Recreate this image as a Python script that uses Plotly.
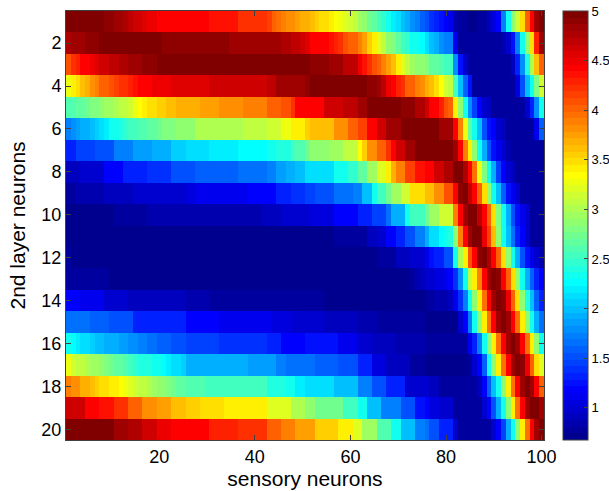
import plotly.graph_objects as go

# ---------------- data ----------------
sensory_neurons = list(range(1, 101))
layer2_neurons = list(range(1, 21))

row01 = [5.0,5.0,5.0,5.0,5.0,5.0,5.0,4.95,4.9,4.9,
         4.85,4.8,4.75,4.7,4.65,4.6,4.55,4.5,4.5,4.45,
         4.42,4.42,4.42,4.42,4.42,4.4,4.4,4.4,4.4,4.4,
         4.35,4.35,4.35,4.35,4.35,4.35,4.25,4.25,4.25,4.25,
         4.25,4.25,4.15,4.05,3.95,3.9,3.85,3.8,3.75,3.7,
         3.65,3.6,3.55,3.5,3.45,3.4,3.35,3.3,3.2,3.15,
         3.05,2.95,2.85,2.75,2.65,2.55,2.45,2.3,2.2,2.1,
         2.0,1.9,1.8,1.7,1.6,1.5,1.4,1.3,1.25,1.2,
         1.1,0.85,0.8,0.75,0.72,0.72,0.75,0.8,0.9,1.05,
         1.2,1.75,2.3,2.85,3.15,3.45,4.0,4.45,4.85,5.0]
row02 = [4.75,4.8,4.85,4.85,4.9,4.9,4.9,4.97,4.97,4.97,
         4.97,4.97,4.97,4.97,4.97,4.97,4.97,4.97,4.97,4.97,
         4.9,4.9,4.9,4.9,4.9,4.9,4.9,4.9,4.9,4.9,
         4.9,4.9,4.9,4.9,4.85,4.85,4.85,4.85,4.85,4.85,
         4.85,4.85,4.8,4.8,4.8,4.75,4.75,4.7,4.7,4.6,
         4.55,4.45,4.45,4.45,4.45,4.35,4.3,4.2,4.1,4.05,
         4.0,3.9,3.75,3.55,3.4,3.2,3.05,2.9,2.8,2.7,
         2.55,2.45,2.35,2.3,2.25,2.1,2.0,1.95,1.8,1.75,
         1.7,1.1,0.8,0.78,0.75,0.75,0.75,0.75,0.75,0.75,
         0.75,0.85,1.0,1.25,1.75,2.35,2.9,3.5,4.3,4.85]
row03 = [4.1,4.2,4.3,4.4,4.45,4.5,4.55,4.6,4.65,4.7,
         4.72,4.75,4.78,4.8,4.82,4.85,4.88,4.9,4.92,4.95,
         5.0,5.0,5.0,5.0,5.0,5.0,5.0,5.0,5.0,5.0,
         5.0,5.0,5.0,5.0,5.0,5.0,5.0,5.0,5.0,5.0,
         5.0,5.0,5.0,5.0,5.0,5.0,5.0,5.0,5.0,5.0,
         5.0,4.9,4.9,4.9,4.9,4.8,4.8,4.8,4.7,4.7,
         4.7,4.5,4.35,4.25,4.1,4.0,3.9,3.75,3.6,3.4,
         3.2,3.1,2.95,2.9,2.85,2.8,2.7,2.65,2.6,2.55,
         2.5,1.8,1.25,1.0,0.75,0.75,0.75,0.75,0.75,0.75,
         0.75,0.75,0.75,0.9,1.3,1.8,2.4,3.0,3.6,4.0]
row04 = [3.3,3.4,3.5,3.6,3.7,3.8,3.9,4.0,4.05,4.1,
         4.15,4.2,4.25,4.3,4.35,4.4,4.42,4.45,4.47,4.5,
         4.5,4.52,4.55,4.55,4.55,4.55,4.55,4.55,4.55,4.55,
         4.62,4.62,4.62,4.62,4.62,4.62,4.62,4.62,4.62,4.62,
         4.62,4.62,4.7,4.7,4.8,4.8,4.8,4.8,4.8,4.8,
         4.9,5.0,5.0,5.0,5.0,5.0,5.0,5.0,5.0,5.0,
         5.0,5.0,5.0,4.9,4.9,4.8,4.7,4.5,4.45,4.3,
         4.25,4.05,4.0,3.9,3.85,3.7,3.6,3.45,3.35,3.15,
         3.05,2.5,2.0,1.6,1.25,0.75,0.75,0.75,0.75,0.75,
         0.75,0.75,0.75,0.75,1.05,1.5,2.0,2.35,2.8,3.15]
row05 = [2.6,2.62,2.65,2.68,2.72,2.78,2.82,2.88,2.92,2.96,
         3.0,3.05,3.1,3.15,3.25,3.35,3.4,3.45,3.5,3.55,
         3.58,3.6,3.62,3.65,3.65,3.7,3.7,3.7,3.75,3.75,
         3.75,3.75,3.85,3.85,3.85,3.85,3.85,3.9,3.9,3.9,
         3.9,3.9,4.0,4.0,4.0,4.1,4.1,4.25,4.4,4.4,
         4.45,4.45,4.45,4.45,4.6,4.6,4.6,4.6,4.7,4.7,
         4.7,4.85,4.85,5.0,5.0,5.0,5.0,5.0,5.0,5.0,
         4.9,4.9,4.9,4.75,4.75,4.65,4.45,4.45,4.3,4.1,
         4.0,3.4,2.85,2.3,1.8,1.45,1.2,0.95,0.9,0.75,
         0.75,0.75,0.75,0.75,0.75,0.75,1.0,1.3,1.8,2.3]
row06 = [1.75,1.8,1.85,1.9,1.95,2.0,2.05,2.15,2.2,2.3,
         2.35,2.4,2.45,2.5,2.55,2.6,2.62,2.65,2.7,2.75,
         2.78,2.8,2.82,2.85,2.85,2.9,2.9,3.0,3.0,3.0,
         3.0,3.0,3.0,3.0,3.0,3.0,3.0,3.05,3.05,3.05,
         3.05,3.05,3.15,3.15,3.15,3.25,3.25,3.4,3.4,3.4,
         3.55,3.6,3.6,3.6,3.6,3.6,3.8,3.8,3.8,4.0,
         4.0,4.15,4.15,4.45,4.45,4.65,4.65,4.8,4.8,4.8,
         5.0,5.0,5.0,5.0,5.0,4.95,4.95,4.95,4.85,4.85,
         4.85,4.45,3.9,3.25,2.7,2.3,2.0,1.5,1.25,1.15,
         0.95,0.9,0.75,0.75,0.75,0.75,0.75,0.75,1.1,1.6]
row07 = [1.35,1.35,1.45,1.45,1.45,1.45,1.55,1.55,1.55,1.55,
         1.75,1.75,1.75,1.75,1.85,1.85,1.85,1.85,1.95,1.95,
         1.95,1.95,2.05,2.05,2.05,2.1,2.1,2.1,2.1,2.1,
         2.2,2.2,2.2,2.2,2.2,2.2,2.25,2.25,2.25,2.25,
         2.25,2.25,2.3,2.3,2.4,2.4,2.4,2.5,2.6,2.6,
         2.75,2.85,2.85,2.85,2.85,2.95,2.95,2.95,3.1,3.1,
         3.1,3.35,3.55,3.8,3.8,4.0,4.0,4.25,4.45,4.65,
         4.65,4.8,4.8,4.95,4.95,4.95,4.95,4.95,4.95,4.95,
         4.95,4.8,4.4,3.9,3.4,2.85,2.35,1.95,1.5,1.25,
         1.1,0.95,0.85,0.75,0.75,0.75,0.75,0.75,0.75,0.8]
row08 = [0.9,0.9,0.9,1.0,1.0,1.0,1.0,1.0,1.2,1.2,
         1.2,1.2,1.3,1.3,1.3,1.3,1.3,1.4,1.4,1.4,
         1.4,1.4,1.5,1.5,1.5,1.5,1.5,1.6,1.6,1.6,
         1.6,1.6,1.6,1.6,1.6,1.6,1.65,1.65,1.65,1.65,
         1.65,1.65,1.75,1.75,1.85,1.85,1.9,1.9,2.0,2.0,
         2.1,2.1,2.15,2.15,2.15,2.15,2.3,2.3,2.3,2.45,
         2.45,2.65,2.65,2.95,2.95,3.2,3.2,3.4,3.65,3.9,
         3.9,4.15,4.15,4.35,4.35,4.45,4.45,4.65,4.65,4.75,
         4.75,4.95,4.95,4.75,4.45,3.95,3.3,2.8,2.3,1.95,
         1.45,1.2,1.0,0.9,0.78,0.78,0.78,0.78,0.78,0.78]
row09 = [0.78,0.78,0.85,0.85,0.85,0.85,0.85,0.85,0.9,0.9,
         0.9,0.9,0.9,0.9,0.95,0.95,0.95,0.95,0.95,1.0,
         1.0,1.0,1.0,1.0,1.0,1.05,1.05,1.12,1.12,1.12,
         1.12,1.12,1.12,1.12,1.12,1.12,1.12,1.12,1.2,1.2,
         1.2,1.2,1.2,1.2,1.3,1.3,1.3,1.4,1.4,1.4,
         1.45,1.45,1.55,1.55,1.55,1.55,1.65,1.65,1.65,1.65,
         1.75,1.75,2.0,2.0,2.3,2.55,2.55,2.75,2.95,2.95,
         3.15,3.15,3.45,3.45,3.45,3.6,3.6,3.8,3.8,4.1,
         4.1,4.45,4.9,5.0,4.7,4.45,4.0,3.45,2.85,2.35,
         2.0,1.6,1.25,1.1,0.95,0.8,0.8,0.8,0.8,0.8]
row10 = [0.72,0.72,0.72,0.72,0.72,0.72,0.72,0.72,0.72,0.72,
         0.78,0.78,0.78,0.78,0.78,0.78,0.78,0.85,0.85,0.85,
         0.85,0.85,0.85,0.85,0.85,0.82,0.82,0.82,0.82,0.82,
         0.82,0.82,0.82,0.82,0.82,0.82,0.82,0.82,0.82,0.82,
         0.82,0.88,0.88,0.88,0.88,0.95,0.95,0.95,0.95,0.95,
         1.0,1.08,1.08,1.08,1.08,1.08,1.2,1.2,1.2,1.2,
         1.2,1.3,1.3,1.3,1.45,1.45,1.45,1.65,1.95,1.95,
         1.95,2.3,2.5,2.5,2.5,2.75,2.95,2.95,3.15,3.15,
         3.15,3.9,4.45,4.85,5.0,4.95,4.7,4.45,4.0,3.5,
         2.8,2.3,1.9,1.5,1.25,1.1,0.95,0.8,0.8,0.8]
row11 = [0.7,0.7,0.7,0.7,0.7,0.7,0.7,0.7,0.7,0.7,
         0.7,0.7,0.7,0.7,0.7,0.7,0.7,0.7,0.7,0.7,
         0.7,0.7,0.7,0.7,0.7,0.7,0.7,0.7,0.7,0.7,
         0.7,0.7,0.7,0.7,0.7,0.7,0.7,0.7,0.7,0.7,
         0.7,0.7,0.72,0.72,0.72,0.72,0.72,0.72,0.72,0.72,
         0.72,0.72,0.72,0.72,0.72,0.72,0.78,0.78,0.78,0.78,
         0.78,0.78,0.78,0.88,0.88,1.0,1.0,1.2,1.2,1.3,
         1.3,1.5,1.5,1.75,1.75,1.95,2.1,2.15,2.25,2.3,
         2.4,2.85,3.9,4.4,4.8,5.0,5.0,4.5,4.15,3.6,
         2.9,2.35,2.0,1.65,1.3,1.15,1.0,0.8,0.8,0.8]
row12 = [0.78,0.7,0.7,0.7,0.7,0.7,0.7,0.7,0.7,0.7,
         0.7,0.7,0.7,0.7,0.7,0.7,0.7,0.7,0.7,0.7,
         0.7,0.7,0.7,0.7,0.7,0.7,0.7,0.7,0.7,0.7,
         0.7,0.7,0.7,0.7,0.7,0.7,0.7,0.7,0.7,0.7,
         0.7,0.7,0.7,0.7,0.7,0.7,0.7,0.7,0.7,0.7,
         0.7,0.7,0.7,0.7,0.7,0.7,0.7,0.7,0.7,0.7,
         0.7,0.7,0.7,0.7,0.7,0.78,0.78,0.78,0.78,0.88,
         0.88,0.88,1.0,1.0,1.0,1.1,1.25,1.35,1.35,1.5,
         1.5,2.3,3.0,3.4,4.1,4.45,4.9,5.0,4.75,4.45,
         4.0,3.5,2.9,2.35,1.9,1.5,1.25,1.1,0.95,0.85]
row13 = [0.8,0.8,0.8,0.8,0.8,0.8,0.8,0.8,0.8,0.72,
         0.72,0.72,0.72,0.72,0.72,0.72,0.72,0.72,0.72,0.72,
         0.72,0.72,0.72,0.72,0.72,0.72,0.72,0.72,0.72,0.72,
         0.7,0.7,0.7,0.7,0.7,0.7,0.7,0.7,0.7,0.7,
         0.7,0.7,0.7,0.7,0.7,0.7,0.7,0.7,0.7,0.7,
         0.7,0.7,0.7,0.7,0.7,0.7,0.7,0.7,0.7,0.7,
         0.7,0.7,0.7,0.7,0.7,0.7,0.7,0.7,0.7,0.7,
         0.7,0.7,0.8,0.85,0.9,0.95,1.0,1.02,1.05,1.1,
         1.15,1.4,1.8,2.3,3.1,3.4,3.9,4.4,4.85,5.0,
         4.9,4.45,4.0,3.45,2.9,2.35,1.95,1.6,1.3,1.15]
row14 = [1.2,1.2,1.2,1.1,1.1,1.1,1.1,1.1,1.0,1.0,
         1.0,1.0,1.0,0.93,0.93,0.93,0.93,0.93,0.93,0.88,
         0.88,0.88,0.88,0.88,0.88,0.85,0.85,0.85,0.85,0.85,
         0.8,0.8,0.8,0.8,0.8,0.8,0.8,0.8,0.8,0.8,
         0.8,0.8,0.8,0.78,0.78,0.78,0.78,0.78,0.78,0.78,
         0.78,0.78,0.78,0.78,0.72,0.72,0.72,0.72,0.72,0.72,
         0.72,0.72,0.72,0.72,0.72,0.72,0.72,0.72,0.72,0.72,
         0.72,0.72,0.72,0.72,0.72,0.78,0.8,0.83,0.85,0.87,
         0.9,1.1,1.4,1.75,2.3,2.85,3.4,3.95,4.45,4.85,
         5.0,4.9,4.5,4.0,3.45,2.9,2.4,2.0,1.6,1.3]
row15 = [1.65,1.65,1.65,1.65,1.65,1.6,1.6,1.6,1.6,1.5,
         1.5,1.5,1.5,1.5,1.35,1.35,1.35,1.35,1.35,1.3,
         1.3,1.3,1.3,1.3,1.3,1.15,1.15,1.15,1.15,1.15,
         1.15,1.15,1.1,1.1,1.1,1.1,1.1,1.1,1.1,1.1,
         1.1,1.1,1.1,1.05,1.05,1.05,1.05,1.0,1.0,1.0,
         1.0,1.0,1.0,1.0,0.92,0.92,0.92,0.92,0.92,0.92,
         0.92,0.85,0.85,0.85,0.85,0.78,0.78,0.78,0.78,0.78,
         0.78,0.78,0.78,0.78,0.78,0.74,0.74,0.74,0.74,0.74,
         0.74,0.74,0.95,1.2,1.7,2.3,2.85,3.4,3.95,4.45,
         4.85,5.0,4.85,4.45,3.95,3.4,2.85,2.35,1.95,1.65]
row16 = [2.3,2.25,2.2,2.15,2.1,2.05,2.0,1.97,1.95,1.92,
         1.9,1.87,1.85,1.82,1.8,1.75,1.7,1.68,1.65,1.62,
         1.6,1.57,1.55,1.52,1.5,1.45,1.45,1.45,1.45,1.45,
         1.45,1.45,1.4,1.4,1.4,1.4,1.4,1.4,1.4,1.4,
         1.4,1.4,1.3,1.3,1.3,1.2,1.2,1.2,1.2,1.2,
         1.22,1.22,1.22,1.22,1.22,1.22,1.22,1.12,1.12,1.12,
         1.12,1.0,1.0,1.0,0.92,0.92,0.92,0.92,0.92,0.82,
         0.82,0.82,0.82,0.82,0.82,0.75,0.75,0.75,0.75,0.75,
         0.75,0.75,0.75,0.75,1.1,1.3,1.75,2.3,2.85,3.4,
         3.95,4.45,4.8,5.0,4.85,4.45,3.95,3.4,2.85,2.35]
row17 = [3.25,3.15,3.1,3.05,3.0,2.95,2.92,2.88,2.8,2.75,
         2.7,2.65,2.6,2.5,2.45,2.42,2.4,2.38,2.35,2.3,
         2.25,2.2,2.15,2.1,2.05,1.95,1.95,1.95,1.95,1.95,
         1.95,1.9,1.9,1.9,1.9,1.9,1.9,1.9,1.85,1.85,
         1.85,1.85,1.85,1.85,1.75,1.75,1.68,1.68,1.68,1.68,
         1.65,1.65,1.58,1.58,1.58,1.58,1.58,1.5,1.5,1.5,
         1.5,1.3,1.3,1.3,1.05,1.05,1.05,0.92,0.92,0.92,
         0.92,0.92,0.8,0.8,0.8,0.74,0.74,0.74,0.74,0.74,
         0.74,0.74,0.74,0.74,0.8,0.95,1.15,1.6,2.3,2.85,
         3.4,3.95,4.45,4.8,5.0,4.9,4.5,4.0,3.5,3.2]
row18 = [3.9,3.85,3.8,3.7,3.65,3.6,3.55,3.5,3.45,3.4,
         3.38,3.35,3.25,3.2,3.15,3.1,3.05,3.0,2.95,2.9,
         2.85,2.8,2.75,2.7,2.65,2.6,2.6,2.6,2.6,2.55,
         2.55,2.55,2.55,2.55,2.55,2.5,2.5,2.5,2.5,2.5,
         2.5,2.5,2.4,2.4,2.4,2.4,2.3,2.3,2.2,2.2,
         2.15,2.15,2.1,2.1,2.1,2.1,2.0,2.0,2.0,2.0,
         2.0,1.75,1.75,1.75,1.55,1.55,1.55,1.3,1.3,1.3,
         1.3,1.0,1.0,1.0,1.0,0.95,0.9,0.88,0.8,0.8,
         0.8,0.75,0.75,0.75,0.75,0.75,0.9,1.2,1.6,2.0,
         2.35,2.85,3.4,3.95,4.45,4.8,5.0,4.85,4.45,4.05]
row19 = [4.65,4.6,4.6,4.6,4.45,4.45,4.45,4.35,4.35,4.35,
         4.2,4.2,4.2,4.05,4.05,4.05,3.85,3.85,3.85,3.75,
         3.75,3.75,3.62,3.62,3.62,3.55,3.55,3.55,3.45,3.45,
         3.45,3.45,3.45,3.4,3.4,3.4,3.4,3.4,3.38,3.38,
         3.38,3.38,3.2,3.2,3.2,3.2,3.2,3.0,3.0,3.0,
         2.9,2.9,2.75,2.75,2.75,2.75,2.75,2.75,2.5,2.5,
         2.5,2.3,2.3,2.0,2.0,2.0,1.75,1.75,1.75,1.75,
         1.5,1.5,1.5,1.25,1.25,1.2,1.05,1.05,0.95,0.95,
         0.95,0.78,0.78,0.78,0.78,0.78,0.78,0.95,1.15,1.55,
         1.95,2.35,2.85,3.4,3.95,4.45,4.8,5.0,4.95,4.8]
row20 = [5.0,5.0,5.0,5.0,5.0,5.0,5.0,4.95,4.95,4.95,
         4.85,4.85,4.85,4.75,4.75,4.75,4.65,4.65,4.65,4.5,
         4.5,4.5,4.45,4.45,4.45,4.4,4.4,4.4,4.4,4.4,
         4.3,4.3,4.3,4.3,4.3,4.3,4.25,4.25,4.25,4.25,
         4.25,4.25,4.05,4.05,4.05,3.9,3.9,3.9,3.75,3.75,
         3.75,3.75,3.55,3.55,3.55,3.55,3.55,3.4,3.4,3.4,
         3.2,3.2,2.95,2.95,2.95,2.6,2.6,2.6,2.3,2.3,
         2.0,2.0,2.0,1.75,1.75,1.65,1.5,1.5,1.35,1.35,
         1.35,0.95,0.78,0.78,0.78,0.78,0.78,0.78,0.78,0.95,
         1.15,1.45,1.9,2.3,2.85,3.4,3.95,4.45,4.85,5.0]

activity = [row01, row02, row03, row04, row05, row06, row07, row08, row09, row10,
            row11, row12, row13, row14, row15, row16, row17, row18, row19, row20]
for _r in activity:
    assert len(_r) == 100, len(_r)

x_tick_values = [20, 40, 60, 80, 100]
y_tick_values = [2, 4, 6, 8, 10, 12, 14, 16, 18, 20]
cbar_tick_values = [1, 1.5, 2, 2.5, 3, 3.5, 4, 4.5, 5]
cbar_tick_labels = ["1", "1.5", "2", "2.5", "3", "3.5", "4", "4.5", "5"]
z_low, z_high = 0.675, 5.0


# ---------------- MATLAB-style jet(64) colormap ----------------
def jet64():
    def clip(v):
        return max(0.0, min(1.0, v))
    scale = []
    n = 64
    for k in range(1, n + 1):
        r = clip(min((k - 24) / 16, (72 - k) / 16))
        g = clip(min((k - 8) / 16, (56 - k) / 16))
        b = clip(min((k + 8) / 16, (40 - k) / 16))
        c = f"rgb({round(r*255)},{round(g*255)},{round(b*255)})"
        scale.append([(k - 1) / n, c])
        scale.append([k / n, c])
    return scale


FONT = "Liberation Sans, Arial, Helvetica, sans-serif"
AX_COLOR = "#404040"

fig = go.Figure(
    go.Heatmap(
        z=activity,
        x=sensory_neurons,
        y=layer2_neurons,
        colorscale=jet64(),
        zmin=z_low,
        zmax=z_high,
        colorbar=dict(
            x=1.0397, xanchor="left", xpad=0,
            y=0.5, yanchor="middle", ypad=0,
            len=1, lenmode="fraction",
            thickness=25, thicknessmode="pixels",
            outlinewidth=1, outlinecolor=AX_COLOR,
            tickmode="array", tickvals=cbar_tick_values, ticktext=cbar_tick_labels,
            ticks="inside", ticklen=4, tickcolor=AX_COLOR,
            tickfont=dict(family=FONT, size=13, color="black"),
        ),
        hoverinfo="skip",
    )
)

fig.update_layout(
    width=609, height=491,
    margin=dict(l=66, r=65, t=11, b=51, pad=0, autoexpand=False),
    paper_bgcolor="white", plot_bgcolor="white",
    font=dict(family=FONT, color="black"),
)

fig.update_xaxes(
    range=[0.5, 100.5], tickmode="array", tickvals=x_tick_values,
    ticks="inside", ticklen=5, tickcolor=AX_COLOR, tickwidth=1,
    showline=True, linecolor=AX_COLOR, linewidth=1, mirror="ticks",
    showgrid=False, zeroline=False, automargin=False,
    tickfont=dict(family=FONT, size=18, color="black"),
    title=dict(text="sensory neurons", font=dict(family=FONT, size=21, color="black"), standoff=2),
)
fig.update_yaxes(
    range=[20.5, 0.5], tickmode="array", tickvals=y_tick_values,
    ticks="inside", ticklen=5, tickcolor=AX_COLOR, tickwidth=1,
    showline=True, linecolor=AX_COLOR, linewidth=1, mirror="ticks",
    showgrid=False, zeroline=False, automargin=False,
    tickfont=dict(family=FONT, size=18, color="black"),
    title=dict(text="2nd layer neurons", font=dict(family=FONT, size=21, color="black"), standoff=10),
)

fig.write_html("out.html")
